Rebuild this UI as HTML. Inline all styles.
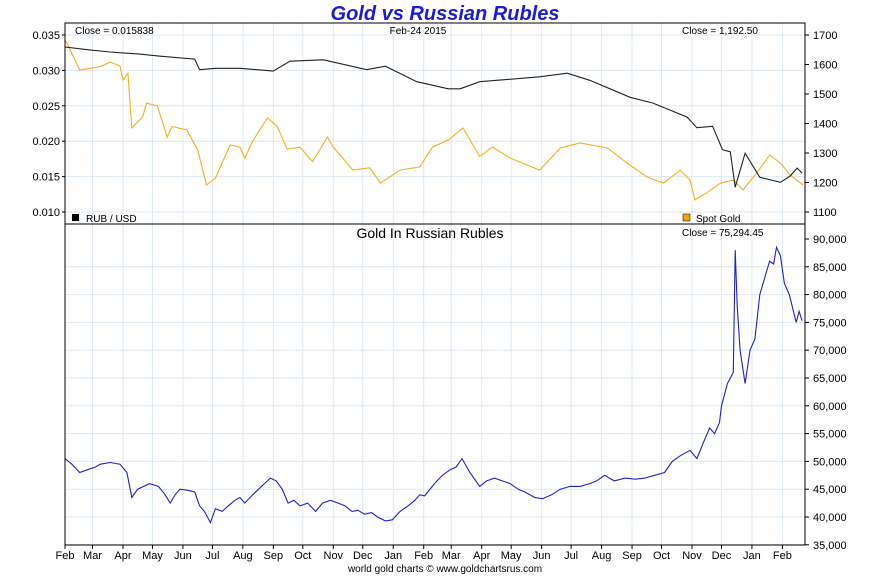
<!DOCTYPE html>
<html><head><meta charset="utf-8"><style>
body{margin:0;background:#fff;}
svg text{font-family:"Liberation Sans",sans-serif;}
</style></head><body>
<svg id="chart" width="890" height="575" viewBox="0 0 890 575">
<text x="445" y="20" text-anchor="middle" font-size="20" font-weight="bold" font-style="italic" fill="#1a1adc">Gold vs Russian Rubles</text>
<g id="grid"></g>
<g id="marks"></g>
<g id="axes"></g>
</svg>
<script>
const monthLabels=["Feb","Mar","Apr","May","Jun","Jul","Aug","Sep","Oct","Nov","Dec","Jan","Feb","Mar","Apr","May","Jun","Jul","Aug","Sep","Oct","Nov","Dec","Jan","Feb"];
const monthDays=[0,28,59,89,120,150,181,212,242,273,303,334,365,393,424,454,485,515,546,577,607,638,668,699,730];
const rubTicks=[0.035,0.030,0.025,0.020,0.015,0.010];
const goldTicks=[1700,1600,1500,1400,1300,1200,1100];
const rgTicks=[90000,85000,80000,75000,70000,65000,60000,55000,50000,45000,40000,35000];
const goldDays=[0,2,15,36,46,56,59,64,68,79,83,94,104,109,124,135,144,153,168,178,183,191,206,216,226,239,252,267,273,293,310,321,341,361,374,390,405,422,435,453,483,504,524,552,572,592,609,626,636,641,653,667,680,690,704,717,728,738,751];
const goldVals=[1680,1673,1581,1593,1608,1595,1547,1570,1385,1422,1469,1460,1354,1390,1378,1310,1192,1215,1327,1320,1283,1340,1419,1390,1313,1320,1271,1354,1320,1242,1250,1198,1242,1253,1320,1344,1385,1288,1320,1283,1242,1317,1334,1317,1266,1219,1198,1242,1208,1141,1165,1198,1208,1175,1233,1293,1266,1225,1192];
const rubDays=[0,25,46,76,97,132,137,153,178,212,229,263,307,326,358,390,402,422,483,511,534,575,598,633,643,659,669,677,682,692,707,728,738,745,750];
const rubVals=[0.0333,0.0329,0.0326,0.0323,0.0320,0.0316,0.0301,0.0303,0.0303,0.0299,0.0313,0.0315,0.0301,0.0306,0.0284,0.0274,0.0274,0.0284,0.0291,0.0296,0.0286,0.0262,0.0254,0.0234,0.0219,0.0221,0.0188,0.0185,0.0135,0.0183,0.0149,0.0142,0.0151,0.0162,0.0155];
const rgDays=[0,7,15,23,31,36,46,56,63,68,74,86,95,102,107,112,117,125,132,137,142,148,153,160,166,173,178,183,191,200,209,215,221,227,233,239,247,255,262,270,278,285,292,298,305,312,318,326,333,341,349,356,361,366,376,384,392,398,404,412,422,429,437,445,453,461,468,478,486,495,504,514,524,534,541,549,559,570,580,590,600,610,618,626,636,643,651,656,661,666,668,674,680,682,684,687,692,697,702,707,712,717,721,724,728,732,737,744,747,750];
const rgVals=[50.5,49.5,48,48.5,49,49.5,49.8,49.5,48,43.5,45,46,45.5,44,42.5,44,45,44.8,44.5,42,41,39,41.5,41,42,43,43.5,42.5,44,45.5,47,46.5,45,42.5,43,42,42.5,41,42.5,43,42.5,42,41,41.2,40.5,40.8,40,39.3,39.5,41,42,43,44,43.8,46,47.5,48.5,49,50.5,48,45.5,46.5,47,46.5,46,45,44.5,43.5,43.3,44,45,45.5,45.5,46,46.5,47.5,46.5,47,46.8,47,47.5,48,50,51,52,50.5,54,56,55,57,60,64,66,88,78,70,64,70,72,80,83,86,85.5,88.5,87,82,80,75,77,75.3];

const L=65,R=805,T1=23,B1=224,B2=545;
const x=d=>L+(d/753)*(R-L);
const yRub=v=>35+(0.035-v)/0.005*35.4;
const yGold=v=>35+(1700-v)/100*29.5;
const yRg=v=>239+(90000-v)/5000*27.8;
const NS="http://www.w3.org/2000/svg";
function mk(tag,attrs,parent,txt){const e=document.createElementNS(NS,tag);for(const k in attrs)e.setAttribute(k,attrs[k]);if(txt!==undefined)e.textContent=txt;parent.appendChild(e);return e;}
const grid=document.getElementById('grid'),marks=document.getElementById('marks'),axes=document.getElementById('axes');
monthDays.forEach((d,i)=>{
  const gl=mk('line',{x1:x(d),x2:x(d),y1:T1,y2:B2,stroke:'#dde9f2','stroke-width':1},grid);
  
  
  const tk=mk('line',{x1:x(d),x2:x(d),y1:B2,y2:B2+4,stroke:'#000'},axes);
  
  
  const t=mk('text',{x:x(d),y:B2+14,'font-size':11,'text-anchor':'middle',fill:'#000'},axes,monthLabels[i]);
  
  
});
rubTicks.forEach(v=>{
  const gl=mk('line',{x1:L,x2:R,y1:yRub(v),y2:yRub(v),stroke:'#dde9f2'},grid);
  
  
  const t=mk('text',{x:L-5,y:yRub(v)+4,'font-size':11,'text-anchor':'end'},axes,v.toFixed(3));
  
  
  const tk=mk('line',{x1:L-3,x2:L,y1:yRub(v),y2:yRub(v),stroke:'#000'},axes);
  
  
});
goldTicks.forEach(v=>{
  const t=mk('text',{x:R+8,y:yGold(v)+4,'font-size':11},axes,String(v));
  
  
  const tk=mk('line',{x1:R,x2:R+4,y1:yGold(v),y2:yGold(v),stroke:'#000'},axes);
  
  
});
rgTicks.forEach(v=>{
  if(v<90000){const gl=mk('line',{x1:L,x2:R,y1:yRg(v),y2:yRg(v),stroke:'#dde9f2'},grid);
  
  }
  const t=mk('text',{x:R+8,y:yRg(v)+4,'font-size':11},axes,v.toLocaleString('en-US'));
  
  
  const tk=mk('line',{x1:R,x2:R+4,y1:yRg(v),y2:yRg(v),stroke:'#000'},axes);
  
  
});
function line(days,vals,yf,color,name){
  const p=days.map((d,i)=>(i?'L':'M')+x(d).toFixed(1)+','+yf(vals[i]).toFixed(1)).join('');
  const e=mk('path',{d:p,fill:'none',stroke:color,'stroke-width':1.1},marks);
  
  
}
line(goldDays,goldVals,yGold,'#f0b020','spot-gold-line');
line(rubDays,rubVals,yRub,'#222','rub-usd-line');
line(rgDays,rgVals.map(v=>v*1000),yRg,'#2020d0','gold-in-rubles-line');
const frame1=mk('rect',{x:L,y:T1,width:R-L,height:B1-T1,fill:'none',stroke:'#000'},axes);


const frame2=mk('rect',{x:L,y:B1,width:R-L,height:B2-B1,fill:'none',stroke:'#000'},axes);


const labels=[
 [75,34,'Close = 0.015838',10,'start','rub-close-label'],
 [418,34,'Feb-24  2015',10,'middle','date-label'],
 [682,34,'Close = 1,192.50',10,'start','gold-close-label'],
 [86,222,'RUB / USD',10,'start','legend-rub-usd'],
 [696,222,'Spot Gold',10,'start','legend-spot-gold'],
 [430,238,'Gold In Russian Rubles',14,'middle','bottom-panel-title'],
 [682,236,'Close = 75,294.45',10,'start','rub-gold-close-label'],
 [445,572,'world gold charts © www.goldchartsrus.com',10,'middle','footer-credit']];
labels.forEach(l=>{const t=mk('text',{x:l[0],y:l[1],'font-size':l[3],'text-anchor':l[4]},axes,l[2]);
 
 });
const s1=mk('rect',{x:72,y:214,width:7,height:7,fill:'#000'},axes);


const s2=mk('rect',{x:683,y:214,width:7,height:7,fill:'#f0a800',stroke:'#000','stroke-width':0.5},axes);


</script>
</body></html>
